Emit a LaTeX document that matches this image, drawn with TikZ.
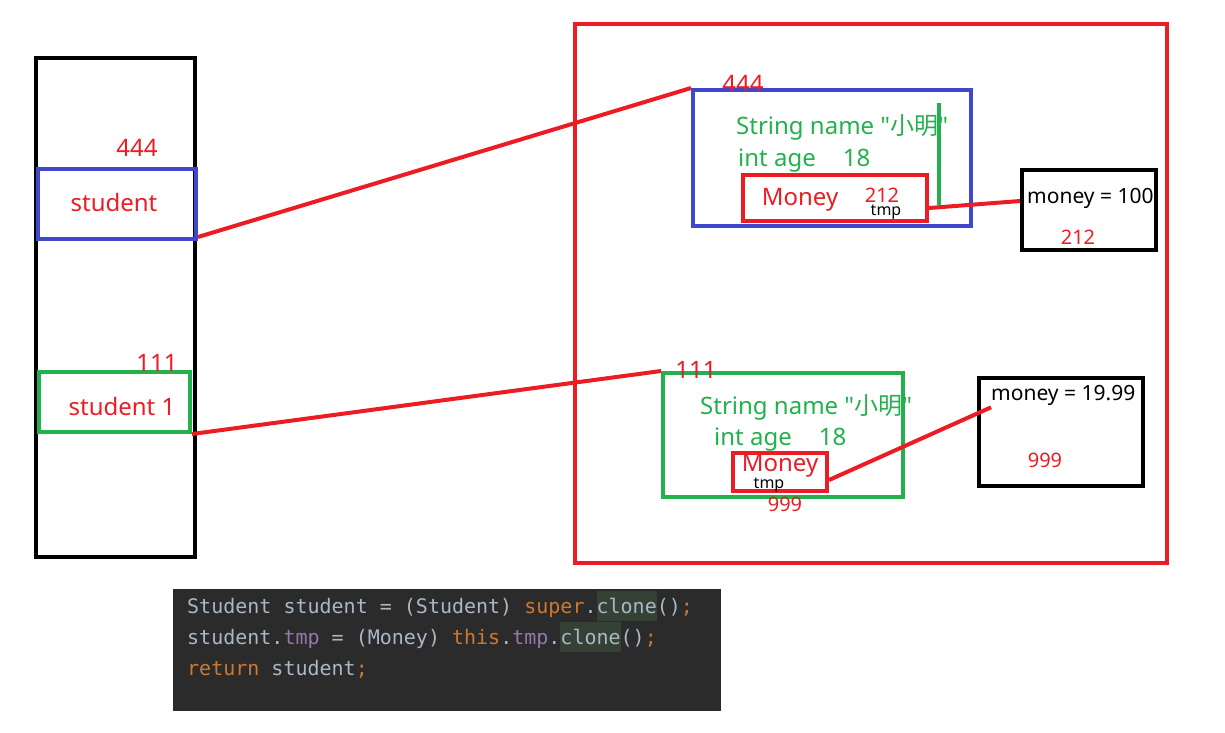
\documentclass[tikz,border=0pt]{standalone}
\usepackage{fontspec}
\setmainfont{Noto Sans}
\setmonofont{DejaVu Sans Mono}
\newfontfamily\cjk{Noto Sans CJK SC}
\newfontfamily\qtfont{Noto Sans}
\usetikzlibrary{positioning, calc}
\definecolor{memred}{HTML}{ED1C24}
\definecolor{memblue}{HTML}{3F48CC}
\definecolor{memgreen}{HTML}{22B14C}
\definecolor{codebg}{HTML}{2B2B2B}
\definecolor{codefg}{HTML}{A9B7C6}
\definecolor{codekw}{HTML}{CC7832}
\definecolor{codefld}{HTML}{9876AA}
\definecolor{codehl}{HTML}{344134}
\tikzset{%
	box/.style={draw, rectangle, line width=4pt, inner sep=0pt},
	stackbox/.style={box, draw=black},
	refbox/.style={box, draw=memblue},
	ref1box/.style={box, draw=memgreen},
	heapbox/.style={box, draw=memred},
	valbox/.style={box, draw=black},
	link/.style={draw=memred, line width=4pt},
	lbl/.style={inner sep=0pt, font=\fontsize{24}{28}\selectfont},
	num/.style={lbl, text=memred},
	small/.style={inner sep=0pt, font=\fontsize{20}{24}\selectfont},
	val/.style={inner sep=0pt, font=\fontsize{21}{25}\selectfont},
	tiny/.style={inner sep=0pt, font=\fontsize{16}{19}\selectfont},
	field/.style={lbl, text=memgreen},
	codeline/.style={inner sep=0pt, anchor=base west, text=codefg,
		font=\ttfamily\fontsize{20}{24}\selectfont}
}
\newcommand{\XM}{{\qtfont "}{\cjk 小明}{\qtfont "}}
\newcommand{\kw}[1]{\textcolor{codekw}{#1}}
\newcommand{\fld}[1]{\textcolor{codefld}{#1}}
\newcommand{\hl}[1]{{\setlength{\fboxsep}{0pt}\colorbox{codehl}{\rule[-8pt]{0pt}{30pt}#1}}}

\begin{document}
\begin{tikzpicture}[x=1pt, y=-1pt]
	\useasboundingbox (0,0) rectangle (1225,732);
	%stack
	\node [stackbox, minimum width=159pt, minimum height=499pt] (stack) at (115.5,307.5) {};
	\node [refbox, minimum width=158pt, minimum height=70pt] (stu) at (117,204) {};
	\node [ref1box, minimum width=151pt, minimum height=60pt] (stu1) at (114.5,402) {};
	\node [num] (stuT) at (114,202) {student};
	\node [num] (stu1T) at (122,406) {student 1};
	\node [num] (stuA) at (137,148) {444};
	\node [num] (stu1A) at (157,363) {111};

	%heap
	\node [heapbox, minimum width=592pt, minimum height=539pt] (heap) at (871,293.5) {};

	%first object
	\node [refbox, minimum width=278pt, minimum height=136pt] (objA) at (832,158) {};
	\node [num] (objAA) at (743,84) {444};
	\node [field, anchor=west] (nameA) at (736,127) {String name \XM};
	\node [field, anchor=west] (ageA) at (738,161) {int age\hspace{27pt}18};
	\node [heapbox, minimum width=184pt, minimum height=46pt] (moneyA) at (835,198) {};
	\node [num] (moneyAT) at (800,200) {Money};
	\node [small, text=memred] (moneyAA) at (882,195) {212};
	\node [tiny] (tmpA) at (886,212) {tmp};
	\node [valbox, minimum width=134pt, minimum height=80pt] (heapA) at (1089,210) {};
	\node [val, anchor=west] (heapAT) at (1027,198) {money = 100};
	\node [small, text=memred] (heapAA) at (1078,237) {212};
	\draw [memgreen, line width=4pt] (939,103) -- (939,205);

	%second object
	\node [ref1box, minimum width=240pt, minimum height=124pt] (objB) at (783,435) {};
	\node [num] (objBA) at (696,370) {111};
	\node [field, anchor=west] (nameB) at (700,407) {String name \XM};
	\node [field, anchor=west] (ageB) at (714,440) {int age\hspace{27pt}18};
	\node [heapbox, minimum width=94pt, minimum height=38pt] (moneyB) at (780,472) {};
	\node [num] (moneyBT) at (780,466) {Money};
	\node [tiny] (tmpB) at (769,485) {tmp};
	\node [small, text=memred] (moneyBA) at (785,504) {999};
	\node [valbox, minimum width=164pt, minimum height=108pt] (heapB) at (1061,432) {};
	\node [val, anchor=west] (heapBT) at (991,395) {money = 19.99};
	\node [small, text=memred] (heapBA) at (1045,460) {999};

	%references
	\draw [link] ([yshift=4pt]stu.south east) -- (objA.north west);
	\draw [link] (stu1.south east) -- (objB.north west);
	\draw [link] ([yshift=-10pt]moneyA.east) -- ([yshift=9pt]heapA.west);
	\draw [link] ([yshift=-8pt]moneyB.east) -- ([yshift=-2pt]heapBT.south west);

	%code
	\fill [codebg] (173,589) rectangle (721,711);
	\node [codeline] (code1) at (187,613) {Student student = (Student) \kw{super}.\hl{clone}()\kw{;}};
	\node [codeline] (code2) at (187,644) {student.\fld{tmp} = (Money) \kw{this}.\fld{tmp}.\hl{clone}()\kw{;}};
	\node [codeline] (code3) at (187,675) {\kw{return} student\kw{;}};
\end{tikzpicture}
\end{document}
